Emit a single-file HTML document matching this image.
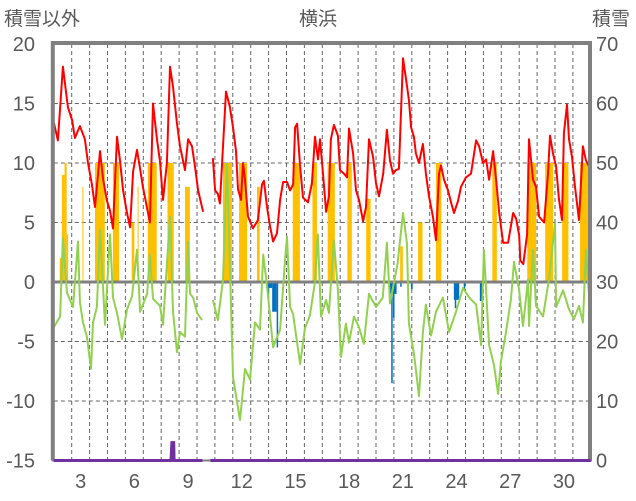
<!DOCTYPE html>
<html><head><meta charset="utf-8">
<style>
html,body{margin:0;padding:0;background:#fff;}
svg{display:block;font-family:"Liberation Sans","Noto Sans CJK JP",sans-serif;}
</style></head>
<body>
<svg id="chart" width="636" height="501" viewBox="0 0 636 501"></svg>
<script>
const leftTicks=[20,15,10,5,0,-5,-10,-15];
const rightTicks=[70,60,50,40,30,20,10,0];
const dayLabels=[3,6,9,12,15,18,21,24,27,30];
const redTemp=[[2.0,13.4],[2.23,11.9],[2.51,18.1],[2.79,14.7],[3.02,13.6],[3.18,12.1],[3.46,13.1],[3.74,12],[3.91,10],[4.13,8.2],[4.30,6.3],[4.47,9],[4.58,11],[4.75,8.7],[4.97,6.8],[5.14,6],[5.31,4.5],[5.53,12.2],[5.70,10.2],[5.87,7.7],[6.09,5.8],[6.26,4.6],[6.43,9.3],[6.65,11.1],[6.82,9.5],[6.98,8],[7.21,6.2],[7.37,5],[7.54,15],[7.77,11.9],[7.93,10.2],[8.10,6.9],[8.32,10],[8.49,18.1],[8.66,16.4],[8.88,13.3],[9.05,11.4],[9.22,10.2],[9.33,9.4],[9.50,12],[9.72,11.4],[9.89,9.7],[10.06,7.7],[10.34,5.9],null,[10.89,10.4],[11.01,7.7],[11.17,7.4],[11.28,6.6],[11.45,11.4],[11.62,16],[11.84,14.7],[12.01,13],[12.18,11],[12.29,7.8],[12.46,6.9],[12.57,10],[12.68,8.6],[12.85,5.5],[13.13,4.5],[13.40,5.2],[13.63,8.2],[13.74,8.5],[13.91,6.3],[14.08,4.7],[14.25,3.4],[14.47,4.1],[14.64,6.9],[14.81,8.4],[15.03,8.4],[15.20,7.7],[15.37,8.2],[15.48,13],[15.59,13.3],[15.76,9.7],[15.92,7.1],[16.20,6.7],[16.42,8.3],[16.59,12.2],[16.76,10.3],[16.87,12],[17.05,8.9],[17.21,5.9],[17.37,7.2],[17.48,12],[17.65,13.2],[17.87,12.3],[17.99,9.4],[18.21,9.1],[18.38,8.8],[18.49,12.9],[18.72,10.8],[18.88,7.7],[19.05,6.9],[19.28,5.1],[19.44,6.3],[19.61,12],[19.84,10.5],[20.00,8.3],[20.17,7.2],[20.40,9.1],[20.61,12.8],[20.78,10.2],[20.95,9.1],[21.11,9.4],[21.28,9.5],[21.39,14],[21.51,18.8],[21.68,17],[21.84,15.3],[21.96,13],[22.12,12.2],[22.23,10.8],[22.40,10],[22.62,11.6],[22.79,9.1],[22.96,7.2],[23.18,5.5],[23.35,3.5],[23.52,9.1],[23.63,9.8],[23.80,8.6],[24.02,7.7],[24.19,6.7],[24.36,5.8],[24.58,6.8],[24.75,8],[25.03,8.8],[25.31,9.1],[25.59,11.9],[25.76,11.4],[25.98,10],[26.15,10.3],[26.32,8.6],[26.54,11],[26.71,8.6],[26.88,5.8],[27.10,3.3],[27.38,3.3],[27.66,5.8],[27.83,5.3],[28.00,3.9],[28.06,1.8],[28.23,1.5],[28.44,4.0],[28.55,12],[28.77,8.6],[28.94,8],[29.11,5.5],[29.39,5],[29.61,9.1],[29.72,12.3],[29.89,10.8],[30.06,9.7],[30.22,7],[30.39,5.2],[30.50,12.5],[30.67,14.9],[30.78,12],[30.95,10.5],[31.12,8],[31.34,5.2],[31.56,11.4],[31.73,10.2],[31.90,9.7],[32.0,7.6]];
const greenLine=[[2.0,-3.8],[2.35,-2.9],[2.51,3.7],[2.74,-0.9],[3.07,-2.1],[3.35,3.4],[3.46,-1.7],[3.63,-3.4],[3.85,-4.6],[4.08,-7.3],[4.19,-3.4],[4.41,-2.1],[4.58,4.4],[4.86,-3.6],[5.14,4],[5.31,-1.3],[5.53,-2.6],[5.81,-4.8],[6.09,-2.3],[6.37,-1.2],[6.65,2.7],[6.82,-2.5],[7.21,-1.0],[7.37,2.3],[7.54,-1.4],[7.93,-2],[8.10,-3.6],[8.49,5.5],[8.66,-2.5],[8.88,-5.9],[9.05,-4.2],[9.33,-4.6],[9.50,3.4],[9.61,-1],[9.78,-1.3],[10.0,-2.6],[10.28,-3.2],null,[10.89,-1.5],[11.17,-3.2],[11.45,0.2],[11.68,10],[12.01,-8],[12.40,-11.6],[12.68,-7.3],[12.96,-8.2],[13.24,-3.4],[13.52,-4],[13.70,2.3],[13.91,-0.3],[14.25,-5.5],[14.64,-4],[14.92,1.9],[15.03,3.8],[15.20,-2.1],[15.37,-2.7],[15.76,-6.9],[16.03,-3.9],[16.31,-2.8],[16.59,0],[16.75,4],[16.93,-2.9],[17.21,-1.5],[17.37,-2.6],[17.65,3.5],[17.87,-0.7],[18.04,-6.3],[18.32,-3.5],[18.49,-5.1],[18.77,-2.9],[19.05,-3.8],[19.32,-5.2],[19.61,-1],[20.0,-2.1],[20.38,-1.3],[20.61,3.3],[20.78,-1.8],[21.2,1.5],[21.51,5.8],[21.73,3.2],[21.84,-3.5],[22.12,-6],[22.40,-9.6],[22.62,-4.2],[22.79,-1.9],[23.07,-4.5],[23.35,-2.5],[23.74,-1.3],[24.08,-4.2],[24.47,-2.5],[24.86,-0.5],[25.20,-1.3],[25.59,-1.9],[25.87,-5.3],[26.03,2.7],[26.32,-5.3],[26.59,-7],[26.82,-9.4],[26.98,-6.7],[27.26,-4.2],[27.54,-1.4],[27.71,1.7],[27.99,-0.6],[28.21,-3.7],[28.49,0.2],[28.55,-3.7],[28.77,2.7],[28.94,-2],[29.33,-2.9],[29.66,0.2],[30.0,4.9],[30.06,-2.1],[30.45,-0.7],[30.78,-2.3],[31.06,-3.1],[31.34,-2],[31.56,-3.4],[31.73,2.7],[32.0,-3.4]];
const orangeBars=[[2.33,2.45,2],[2.45,2.6,9],[2.6,2.72,10],[2.72,2.8,4],[3.6,3.65,8],[4.3,4.85,10],[5.3,5.65,10],[6.35,6.5,5],[6.68,6.72,8],[7.25,7.75,10],[8.35,8.7,10],[9.33,9.6,8],[11.45,11.95,10],[12.35,12.8,10],[13.35,13.5,8],[15.35,15.75,10],[16.45,16.7,10],[17.3,17.7,10],[18.4,18.65,10],[19.45,19.7,7],[21.35,21.5,3],[22.35,22.6,5],[23.35,23.65,10],[26.5,26.75,10],[28.45,28.95,10],[29.45,29.9,10],[30.4,30.75,10],[31.4,31.9,10]];
const blueBars=[[13.86,14.2,-0.5],[13.95,14.0,-1.5],[14.2,14.45,-2.5],[14.45,14.53,-5.5],[20.78,21.15,-1],[20.85,20.9,-8.5],[20.95,21.0,-3],[21.35,21.42,-0.4],[21.95,22.05,-0.6],[24.35,24.65,-1.5],[24.4,24.48,-2.2],[24.9,24.95,-0.6],[25.8,26.0,-1.6]];
const snowDepth=[[2,0],[8.55,0],[8.6,3],[8.7,3],[8.72,0],[10.3,0],null,[10.75,0],[32,0]];

const NS="http://www.w3.org/2000/svg";
const svg=document.getElementById('chart');
const X0=53.8,DX=17.9,Y0=282,DY=11.9,YB=460.5,RS=416.5/70;
function xs(t){return X0+(t-2)*DX;}
function yl(v){return Y0-v*DY;}
function yr(s){return YB-s*RS;}
function mk(tag,attrs,parent){const e=document.createElementNS(NS,tag);for(const k in attrs)e.setAttribute(k,attrs[k]);(parent||svg).appendChild(e);return e;}
function pathFrom(arr,yf){let d='',pen=false;for(const p of arr){if(!p){pen=false;continue;}d+=(pen?'L':'M')+xs(p[0]).toFixed(1)+' '+yf(p[1]).toFixed(1);pen=true;}return d;}

// gridlines
const grid=mk('g',{});


for(let t=3;t<=31;t++){mk('line',{x1:xs(t),x2:xs(t),y1:44,y2:YB,stroke:'#666','stroke-width':1,'stroke-dasharray':'4,3'},grid);}
for(const v of leftTicks){if(v===20||v===-15||v===0)continue;mk('line',{x1:X0,x2:591,y1:yl(v),y2:yl(v),stroke:'#666','stroke-width':1,'stroke-dasharray':'4,3'},grid);}

// orange bars
const og=mk('g',{});


for(const b of orangeBars){const r=mk('rect',{x:xs(b[0]),y:yl(b[2]),width:Math.max(1,xs(b[1])-xs(b[0])),height:yl(0)-yl(b[2]),fill:'#FFC000'},og);

}
// blue bars
const bg=mk('g',{});


for(const b of blueBars){const r=mk('rect',{x:xs(b[0]),y:yl(0),width:Math.max(1.5,xs(b[1])-xs(b[0])),height:yl(b[2])-yl(0),fill:'#0070C0'},bg);

}

// zero line
const zl=mk('line',{x1:X0,x2:591,y1:yl(0),y2:yl(0),stroke:'#808080','stroke-width':3});



// green line
const gl=mk('path',{d:pathFrom(greenLine,yl),fill:'none',stroke:'#92D050','stroke-width':2,'stroke-linejoin':'round'});


// red line
const rl=mk('path',{d:pathFrom(redTemp,yl),fill:'none',stroke:'#FF0000','stroke-width':2,'stroke-linejoin':'round'});



// frame
const fr=mk('path',{d:`M${X0-1} ${YB}V43H590V${YB}`,fill:'none',stroke:'#808080','stroke-width':4});


const bl=mk('line',{x1:X0-2,x2:592,y1:YB,y2:YB,stroke:'#808080','stroke-width':2});


// purple snow depth
const pl=mk('path',{d:pathFrom(snowDepth,yr),fill:'none',stroke:'#7030A0','stroke-width':3});



// tick labels
for(const v of leftTicks){const t=mk('text',{x:35,y:yl(v)+7,'text-anchor':'end','font-size':20,fill:'#595959'});t.textContent=v;

}
for(const s of rightTicks){const t=mk('text',{x:596,y:yr(s)+7,'text-anchor':'start','font-size':20,fill:'#595959'});t.textContent=s;

}
for(const d of dayLabels){const t=mk('text',{x:xs(d+0.5),y:488,'text-anchor':'middle','font-size':20,fill:'#595959'});t.textContent=d;

}

const titles=[['積雪以外',4,'start','left-axis-title'],['横浜',318,'middle','chart-title'],['積雪',630,'end','right-axis-title']];
for(const tt of titles){const t=mk('text',{x:tt[1],y:25,'text-anchor':tt[2],'font-size':19,fill:'#595959'});t.textContent=tt[0];

}
</script>
</body></html>
